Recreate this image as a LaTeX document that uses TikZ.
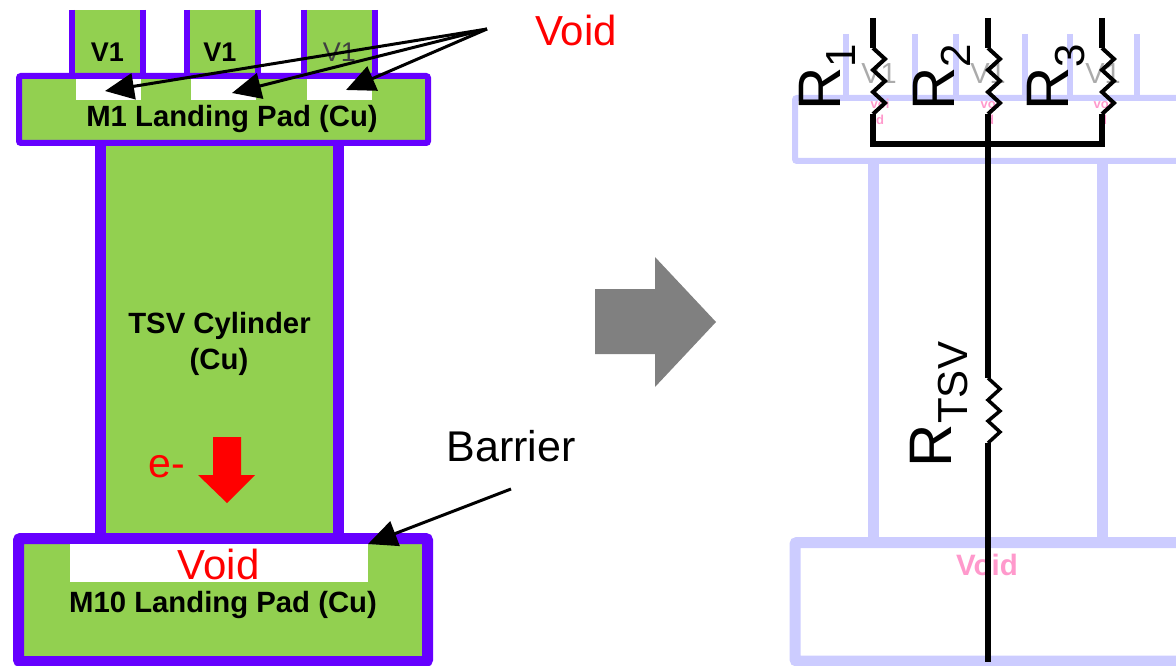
\documentclass[tikz,border=0pt]{standalone}
\usepackage{fontspec}
\setmainfont{Liberation Sans}
\usetikzlibrary{arrows.meta}
\definecolor{cugreen}{HTML}{92D050}
\definecolor{barrier}{HTML}{6600FF}
\definecolor{ghost}{HTML}{CCCCFF}
\definecolor{ghostpink}{HTML}{FF99CC}
\newcommand{\fs}[1]{\fontsize{#1}{#1}\selectfont}
\tikzset{
  every node/.style={inner sep=0pt,outer sep=0pt},
  pad/.style={draw=barrier,fill=cugreen,rounded corners=2pt},
  viawall/.style={draw=barrier,line width=6pt},
  voidbox/.style={fill=white,draw=none},
  boldlabel/.style={font=\fs{29.3}\bfseries,anchor=base,text=black},
  vialabel/.style={font=\fs{27}\bfseries,anchor=base,text=black},
  redlabel/.style={font=\fs{42},anchor=base,text=red},
  blacklabel/.style={font=\fs{43},anchor=base,text=black},
  ghostline/.style={draw=ghost,line width=6pt},
  ghostwide/.style={draw=ghost,line width=11pt},
  ghostvia/.style={font=\fs{29},anchor=base,text=black!33},
  pinksmall/.style={font=\fs{13}\bfseries,text=ghostpink,align=center},
  wire/.style={draw=black,line width=5.5pt,line join=miter},
  zig/.style={draw=black,line width=4pt,line join=miter},
  zigthin/.style={draw=black,line width=3.5pt,line join=miter},
  callout/.style={draw=black,line width=3pt,-{Triangle[length=29pt,width=26pt]}},
  rlabel/.style={rotate=90,anchor=base west,font=\fs{60},text=black},
}
\newcommand{\rsub}[2]{R\raisebox{-#2pt}{\fs{42}#1}}
\begin{document}
\begin{tikzpicture}[x=1pt,y=-1pt]
\useasboundingbox (0,0) rectangle (1176,666);
% ---- left: structure
\foreach \a/\b in {72/143,187/258,304/375}{
  \fill[cugreen] (\a,10) rectangle (\b,78);
  \draw[viawall] (\a,10) -- (\a,78);
  \draw[viawall] (\b,10) -- (\b,78);
}
\draw[pad,line width=6pt] (19,76) rectangle (428,143);
\fill[cugreen] (100,146) rectangle (339,540);
\draw[draw=barrier,line width=11pt] (100.5,143) -- (100.5,538);
\draw[draw=barrier,line width=11pt] (338.5,143) -- (338.5,538);
\draw[pad,line width=11pt] (18.5,538.5) rectangle (427.5,661.5);
\fill[voidbox] (76,79.5) rectangle (141,100);
\fill[voidbox] (191,79.5) rectangle (256,100);
\fill[voidbox] (307,79.5) rectangle (372,100);
\fill[voidbox] (70,544) rectangle (368,582);
\node[vialabel] (v1a) at (107.5,62) {V1};
\node[vialabel] (v1b) at (220,62) {V1};
\node[font=\fs{27},anchor=base,text=black!75] (v1c) at (339.5,62) {V1};
\node[boldlabel] (m1) at (232,127) {M1 Landing Pad (Cu)};
\node[boldlabel] (tsv1) at (219.5,333) {TSV Cylinder};
\node[boldlabel] (tsv2) at (219,369) {(Cu)};
\node[boldlabel] (m10) at (223,612) {M10 Landing Pad (Cu)};
\node[redlabel] (voidb) at (218.5,579) {Void};
\node[redlabel] (voidt) at (576,46) {Void};
\node[font=\fs{41},anchor=base,text=red] (eminus) at (167,477) {e-};
\node[blacklabel] (barr) at (511,461) {Barrier};
\fill[red] (213,437) -- (241,437) -- (241,475) -- (255,475) -- (227,503) -- (198,475) -- (213,475) -- cycle;
% callouts
\coordinate (src) at (487,29);
\coordinate (t1) at (105,91);
\coordinate (t2) at (232,93);
\coordinate (t3) at (346,90);
\coordinate (bsrc) at (511,489);
\coordinate (bt) at (368,544);
\draw[callout] (src) -- (t1);
\draw[callout] (src) -- (t2);
\draw[callout] (src) -- (t3);
\draw[callout] (bsrc) -- (bt);
% ---- middle arrow
\fill[black!50] (595,289) -- (655,289) -- (655,257) -- (716,322) -- (655,387) -- (655,354) -- (595,354) -- cycle;
% ---- right: ghost structure
\foreach \x in {846,915,956,1025,1070,1137}{
  \draw[ghostline] (\x,34) -- (\x,98);
}
\draw[ghostline,rounded corners=2pt] (1180,98) -- (795,98) -- (795,161) -- (1180,161);
\draw[ghostwide] (873,161) -- (873,545);
\draw[ghostwide] (1102,161) -- (1102,545);
\draw[ghostwide,rounded corners=2pt] (1180,542.5) -- (795,542.5) -- (795,661) -- (1180,661);
\node[ghostvia] (g1) at (879,84) {V1};
\node[ghostvia] (g2) at (988,84) {V1};
\node[ghostvia] (g3) at (1103,84) {V1};
\node[pinksmall] (p1) at (880,112) {voi\\[3pt]d};
\node[pinksmall] (p2) at (990,112) {voi\\[3pt]d};
\node[pinksmall] (p3) at (1103,112) {voi\\[3pt]d};
\node[font=\fs{29.5}\bfseries,text=ghostpink,anchor=base] (pv) at (987,575) {Void};
% ---- right: circuit
\coordinate (la) at (873,18);
\coordinate (lb) at (873,48);
\coordinate (lc) at (873,114);
\coordinate (ld) at (873,144);
\coordinate (ca) at (988,18);
\coordinate (cb) at (988,48);
\coordinate (cc) at (988,114);
\coordinate (cd) at (988,378);
\coordinate (ce) at (988,443);
\coordinate (cf) at (988,662);
\coordinate (ra) at (1102,18);
\coordinate (rb) at (1102,48);
\coordinate (rc) at (1102,114);
\coordinate (rd) at (1102,144);
\draw[wire] (la) -- (lb);
\draw[wire] (ca) -- (cb);
\draw[wire] (ra) -- (rb);
\foreach \s/\e/\x in {lb/lc/873,cb/cc/988,rb/rc/1102}{
  \draw[zig] (\s) -- (\x+12,59) -- (\x,70) -- (\x+12,81) -- (\x,92) -- (\x+12,103) -- (\e);
}
\draw[wire] (lc) -- (ld) -- (rd) -- (rc);
\draw[wire] (cc) -- (cd);
\draw[zigthin] (cd) -- (1000,389) -- (988,400) -- (1000,411) -- (988,421) -- (1000,432) -- (ce);
\draw[wire] (ce) -- (cf);
\node[rlabel] (r1) at (840,111) {\rsub{1}{15}};
\node[rlabel] (r2) at (954,111) {\rsub{2}{16}};
\node[rlabel] (r3) at (1068,111) {\rsub{3}{16}};
\node[rlabel] (rt) at (951,467) {R\raisebox{-16pt}{\fs{42}TSV}};
\end{tikzpicture}
\end{document}
